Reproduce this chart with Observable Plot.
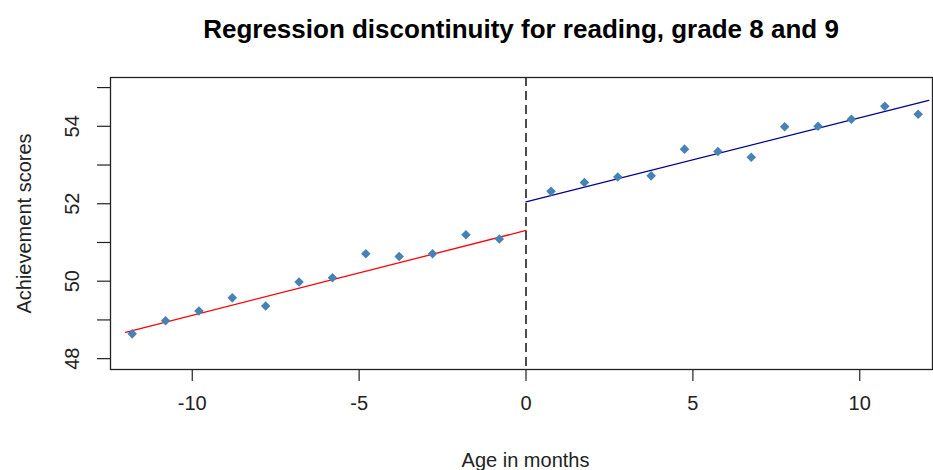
<!DOCTYPE html>
<html>
<head>
<meta charset="utf-8">
<script src="https://cdn.jsdelivr.net/npm/d3@7"></script>
<script src="https://cdn.jsdelivr.net/npm/@observablehq/plot@0.6"></script>
<style>
  html, body { margin: 0; padding: 0; background: #fff; }
  #wrap { position: relative; width: 933px; height: 470px; font-family: "Liberation Sans", Arial, sans-serif; }
  #title { position: absolute; left: 110px; width: 822px; top: 0; height: 60px; line-height: 58px;
           text-align: center; font-weight: bold; font-size: 26px; color: #000; }
  #chart { position: absolute; left: 0; top: 60px; }
</style>
</head>
<body>
<div id="wrap">
  <div id="title">Regression discontinuity for reading, grade 8 and 9</div>
  <div id="chart"></div>
</div>
<script>
// Binned means below the cutoff (age in months, achievement score)
const belowAge = [-11.8, -10.8, -9.8, -8.8, -7.8, -6.8, -5.8, -4.8, -3.8, -2.8, -1.8, -0.8];
const belowScore = [48.64, 48.98, 49.23, 49.57, 49.36, 49.98, 50.09, 50.71, 50.64, 50.71, 51.20, 51.09];

// Binned means above the cutoff
const aboveAge = [0.75, 1.75, 2.75, 3.75, 4.75, 5.75, 6.75, 7.75, 8.75, 9.75, 10.75, 11.75];
const aboveScore = [52.32, 52.55, 52.69, 52.72, 53.41, 53.35, 53.20, 53.99, 54.00, 54.18, 54.52, 54.31];

// Fitted lines on each side of the cutoff (end points)
const fitBelowAge = [-12, 0];
const fitBelowScore = [48.68, 51.31];
const fitAboveAge = [0, 12.07];
const fitAboveScore = [52.05, 54.67];

// Axis ticks
const xTicks = [-10, -5, 0, 5, 10];
const yTicks = [48, 49, 50, 51, 52, 53, 54, 55];
const yTickLabels = [48, 50, 52, 54];

const zip = (xs, ys) => xs.map((x, i) => ({x, y: ys[i]}));
const below = zip(belowAge, belowScore);
const above = zip(aboveAge, aboveScore);
const fitBelow = zip(fitBelowAge, fitBelowScore);
const fitAbove = zip(fitAboveAge, fitAboveScore);

const chart = Plot.plot({
  width: 933,
  height: 410,
  marginTop: 17,
  marginBottom: 101,
  marginLeft: 110,
  marginRight: 1,
  style: {fontFamily: "'Liberation Sans', Arial, sans-serif", fontSize: "20px", color: "#222", background: "#fff"},
  x: {domain: [-12.45, 12.18]},
  y: {domain: [47.72, 55.26]},
  marks: [
    Plot.axisX({ticks: xTicks, tickFormat: d => String(d), tickSize: 12, tickPadding: 14, label: null, stroke: "#222", strokeWidth: 1.2}),
    Plot.axisY({ticks: yTicks, tickSize: 13, text: null, label: null, stroke: "#222", strokeWidth: 1.2}),
    Plot.text(yTickLabels, {y: d => d, text: d => String(d), frameAnchor: "left", dx: -38, rotate: -90, textAnchor: "middle", lineAnchor: "middle", fill: "#222"}),
    Plot.text(["Achievement scores"], {frameAnchor: "left", dx: -86, rotate: -90, textAnchor: "middle", lineAnchor: "middle", fill: "#222"}),
    Plot.text(["Age in months"], {frameAnchor: "bottom", dy: 91, dx: 4, lineAnchor: "middle", fill: "#222"}),
    Plot.ruleX([0], {stroke: "#000", strokeWidth: 1.4, strokeDasharray: "9,5"}),
    Plot.line(fitBelow, {x: "x", y: "y", stroke: "#ff0000", strokeWidth: 1.3}),
    Plot.line(fitAbove, {x: "x", y: "y", stroke: "#00008b", strokeWidth: 1.3}),
    Plot.dot(below, {x: "x", y: "y", symbol: "diamond2", r: 4.3, fill: "steelblue", stroke: "none"}),
    Plot.dot(above, {x: "x", y: "y", symbol: "diamond2", r: 4.3, fill: "steelblue", stroke: "none"}),
    Plot.frame({stroke: "#222", strokeWidth: 1.3})
  ]
});
document.getElementById("chart").appendChild(chart);
</script>
</body>
</html>
